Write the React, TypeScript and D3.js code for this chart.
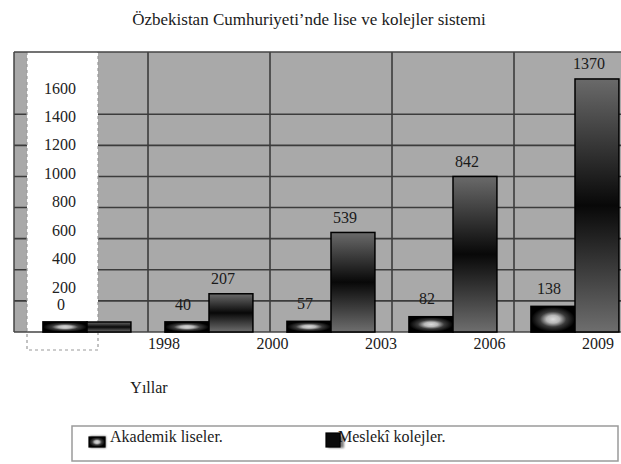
import React from 'react';
import * as d3 from 'd3';

const title = 'Özbekistan Cumhuriyeti’nde lise ve kolejler sistemi';
const yearLabels = ['1998', '2000', '2003', '2006', '2009'];
const akademik = [0, 40, 57, 82, 138];
const mesleki: (number | null)[] = [null, 207, 539, 842, 1370];
const tickValues = [200, 400, 600, 800, 1000, 1200, 1400, 1600];
const seriesNames = ['Akademik liseler.', 'Meslekî kolejler.'];

const W = 621;
const H = 464;
const font = '"Liberation Serif", "DejaVu Serif", serif';

export default function App() {
    const plot = { left: 14, right: 621, top: 52, bottom: 332 };

    const x = d3.scaleBand<number>()
        .domain(d3.range(akademik.length))
        .range([26, 636])
        .paddingInner(0.28)
        .paddingOuter(0.14);
    const sub = d3.scaleBand<number>().domain([0, 1]).range([0, x.bandwidth()]);

    // bars
    const yBar = d3.scaleLinear().domain([0, 1516]).range([plot.bottom, plot.top]);
    // printed tick labels sit on their own spacing in the original
    const yTick = d3.scaleLinear().domain([0, 1600]).range([315.5, 88]);
    // horizontal gridlines: 9 equal divisions of the plot height
    const yGrid = d3.scaleLinear().domain([0, 9]).range([plot.bottom, plot.top]);
    const xYear = d3.scalePoint<string>().domain(yearLabels).range([164, 598]);

    const minH = 10;
    const barTop = (v: number | null) => Math.min(yBar(v ?? 0), plot.bottom - minH);

    const vLines = d3.range(1, akademik.length).map(i => x(i)! - (x.step() - x.bandwidth()) / 2);

    return (
        <svg width={W} height={H} style={{ position: 'absolute', left: 0, top: 0, background: '#fff' }}
            fontFamily={font}>
            <defs>
                <radialGradient id="akGrad" cx="50%" cy="50%" r="50%">
                    <stop offset="0" stopColor="#dcdcdc" />
                    <stop offset="0.3" stopColor="#b8b8b8" />
                    <stop offset="0.6" stopColor="#3a3a3a" />
                    <stop offset="1" stopColor="#000" />
                </radialGradient>
                <linearGradient id="mkGrad" x1="0" y1="0" x2="0" y2="1">
                    <stop offset="0" stopColor="#6a6a6a" />
                    <stop offset="0.5" stopColor="#080808" />
                    <stop offset="1" stopColor="#6e6e6e" />
                </linearGradient>
                <filter id="shadow" x="-30%" y="-30%" width="170%" height="170%">
                    <feGaussianBlur stdDeviation="1.2" />
                </filter>
            </defs>

            <text x={309} y={19} textAnchor="middle" dominantBaseline="central" fontSize={17} fill="#1a1a1a">
                {title}
            </text>

            {/* plot background */}
            <rect x={plot.left} y={plot.top} width={plot.right - plot.left} height={plot.bottom - plot.top} fill="#a9a9a9" />

            {d3.range(1, 8).map(i => (
                <line key={'g' + i} x1={plot.left} x2={plot.right} y1={yGrid(i)} y2={yGrid(i)}
                    stroke="#3c3c3c" strokeWidth={1.6} />
            ))}
            {vLines.map((vx, i) => (
                <line key={'v' + i} x1={vx} x2={vx} y1={plot.top} y2={plot.bottom} stroke="#3c3c3c" strokeWidth={1.6} />
            ))}

            {/* white label box over the y axis */}
            <rect x={27} y={plot.top} width={71} height={298} fill="#fff" />
            <path d={`M27,${plot.top}V350H98V${plot.top}`} fill="none" stroke="#9a9a9a" strokeWidth={1.2} strokeDasharray="3,3" />

            <line x1={plot.left} x2={plot.right} y1={plot.top} y2={plot.top} stroke="#444" strokeWidth={1.5} />
            <line x1={plot.left} x2={plot.left} y1={plot.top} y2={plot.bottom} stroke="#444" strokeWidth={1.5} />
            <line x1={plot.left} x2={plot.right} y1={plot.bottom} y2={plot.bottom} stroke="#444" strokeWidth={1.5} />

            {tickValues.map(t => (
                <text key={t} x={76} y={yTick(t)} textAnchor="end" dominantBaseline="central" fontSize={16} fill="#222">
                    {t}
                </text>
            ))}

            {/* bars */}
            {akademik.map((v, i) => {
                const top = barTop(v);
                return (
                    <rect key={'a' + i} x={x(i)! + sub(0)!} y={top} width={sub.bandwidth()} height={plot.bottom - top}
                        fill="url(#akGrad)" stroke="#000" strokeWidth={1.8} />
                );
            })}
            {mesleki.map((v, i) => {
                const top = barTop(v);
                return (
                    <rect key={'m' + i} x={x(i)! + sub(1)!} y={top} width={sub.bandwidth()} height={plot.bottom - top}
                        fill="url(#mkGrad)" stroke="#000" strokeWidth={1.5} />
                );
            })}

            {/* value labels */}
            {akademik.map((v, i) => (
                <text key={'al' + i} x={x(i)! + sub(0)! + sub.bandwidth() / 2 - 4} y={barTop(v) - 18}
                    textAnchor="middle" dominantBaseline="central" fontSize={16} fill="#1a1a1a">{v}</text>
            ))}
            {mesleki.map((v, i) => v == null ? null : (
                <text key={'ml' + i} x={x(i)! + sub(1)! + sub.bandwidth() / 2 - 8} y={barTop(v) - 15}
                    textAnchor="middle" dominantBaseline="central" fontSize={16} fill="#1a1a1a">{v}</text>
            ))}

            {/* year labels */}
            {yearLabels.map(y => (
                <text key={y} x={xYear(y)} y={343} textAnchor="middle" dominantBaseline="central" fontSize={16} fill="#1a1a1a">
                    {y}
                </text>
            ))}

            <text x={149} y={387} textAnchor="middle" dominantBaseline="central" fontSize={16} fill="#1a1a1a">Yıllar</text>

            {/* legend */}
            <rect x={72} y={426} width={546} height={35} fill="#fff" stroke="#9a9a9a" strokeWidth={1.5} />
            {seriesNames.map((name, i) => {
                const lx = 89 + i * 238;
                return (
                    <g key={name}>
                        <text x={lx + (i === 0 ? 21 : 11)} y={436} dominantBaseline="central" fontSize={16} fill="#1a1a1a">{name}</text>
                        <rect x={lx + 1} y={436} width={16} height={12} fill="#000" opacity={0.5} filter="url(#shadow)" />
                        <rect x={i === 0 ? lx : lx - 1} y={i === 0 ? 437 : 433} width={i === 0 ? 16 : 14} height={i === 0 ? 10 : 14}
                            fill={i === 0 ? 'url(#akGrad)' : '#0a0a0a'} stroke="#000" strokeWidth={1.2} />
                    </g>
                );
            })}
        </svg>
    );
}
